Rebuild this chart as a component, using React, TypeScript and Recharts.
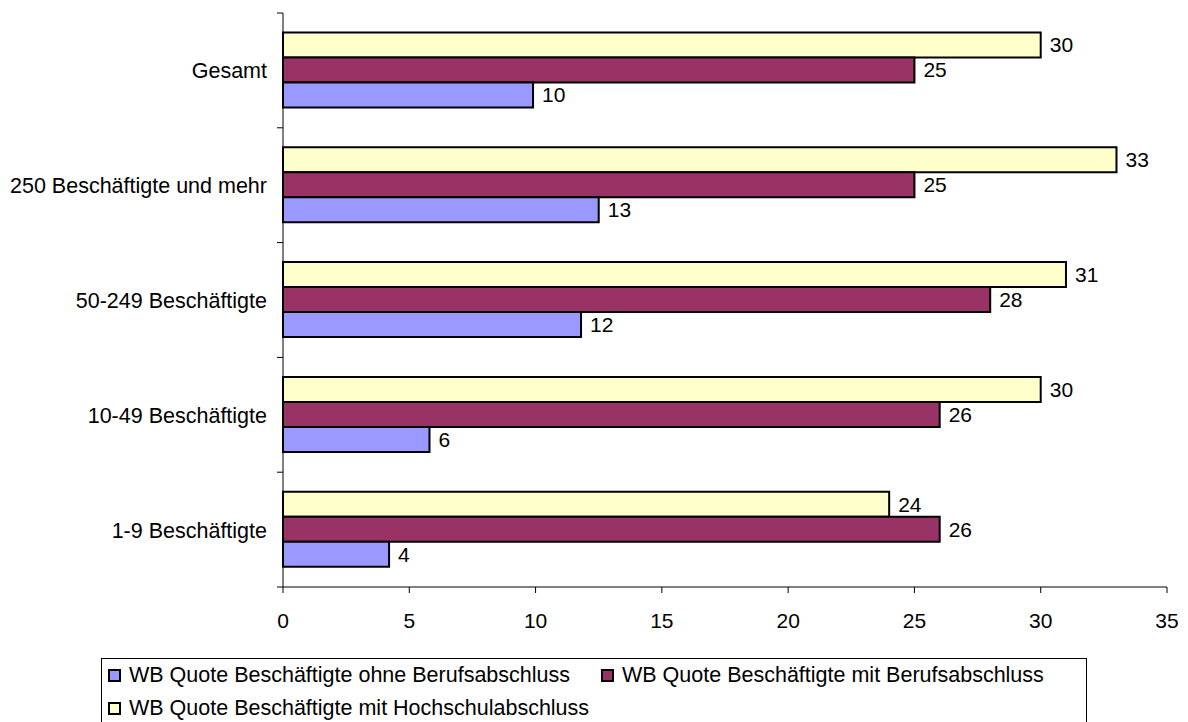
import { Bar, BarChart, LabelList, XAxis, YAxis } from "recharts";

const FONT = "'Liberation Sans', Arial, sans-serif";

const CATEGORIES = [
  "Gesamt",
  "250 Beschäftigte und mehr",
  "50-249 Beschäftigte",
  "10-49 Beschäftigte",
  "1-9 Beschäftigte",
];
const OHNE = [9.9, 12.5, 11.8, 5.8, 4.2];
const MIT = [25.0, 25.0, 28.0, 26.0, 26.0];
const HOCH = [30.0, 33.0, 31.0, 30.0, 24.0];
const X_TICKS = [0, 5, 10, 15, 20, 25, 30, 35];

const SERIES = [
  { key: "ohne", name: "WB Quote Beschäftigte ohne Berufsabschluss", color: "#9999ff" },
  { key: "mit", name: "WB Quote Beschäftigte mit Berufsabschluss", color: "#993366" },
  { key: "hoch", name: "WB Quote Beschäftigte mit Hochschulabschluss", color: "#ffffcc" },
];

const data = CATEGORIES.map((name, i) => ({
  name,
  ohne: OHNE[i],
  mit: MIT[i],
  hoch: HOCH[i],
}));

const Y_TICK_SIZE = 6;
const Y_TICK_MARGIN = 10;

// Excel-style: tick marks between categories, label centred in band
function CategoryTick(props: any) {
  const { x, y, payload, index, visibleTicksCount } = props;
  const half = payload?.offset || 57.5;
  const lx = x + Y_TICK_MARGIN;
  return (
    <g>
      <line x1={lx} x2={lx + Y_TICK_SIZE} y1={y - half} y2={y - half} stroke="#000" />
      {index === visibleTicksCount - 1 && (
        <line x1={lx} x2={lx + Y_TICK_SIZE} y1={y + half} y2={y + half} stroke="#000" />
      )}
      <text x={x} y={y} dy={1} textAnchor="end" dominantBaseline="central" fontSize={21.5} fill="#000">
        {payload.value}
      </text>
    </g>
  );
}

const round = (v: any) => Math.round(Number(v));

export default function App() {
  // bars listed top-to-bottom inside each group
  const drawOrder = [SERIES[2], SERIES[1], SERIES[0]];
  return (
    <div
      style={{
        position: "absolute",
        left: 0,
        top: 0,
        width: 1188,
        height: 722,
        overflow: "hidden",
        background: "#fff",
        fontFamily: FONT,
      }}
    >
      <BarChart
        width={1188}
        height={640}
        data={data}
        layout="vertical"
        margin={{ top: 13, right: 21, bottom: 3, left: 0 }}
        barCategoryGap="17%"
        barGap={0}
      >
        <XAxis
          type="number"
          domain={[0, 35]}
          ticks={X_TICKS}
          height={50}
          tickSize={6}
          tickMargin={20}
          axisLine={{ stroke: "#000" }}
          tickLine={{ stroke: "#000" }}
          tick={{ fontSize: 21, fill: "#000" }}
        />
        <YAxis
          type="category"
          dataKey="name"
          width={283}
          tickSize={Y_TICK_SIZE}
          tickMargin={Y_TICK_MARGIN}
          tickLine={false}
          axisLine={{ stroke: "#000" }}
          tick={<CategoryTick />}
          interval={0}
        />
        {drawOrder.map((s) => (
          <Bar
            key={s.key}
            dataKey={s.key}
            name={s.name}
            fill={s.color}
            stroke="#000"
            strokeWidth={2}
            isAnimationActive={false}
          >
            <LabelList dataKey={s.key} position="right" offset={9} formatter={round} fill="#000" fontSize={21} />
          </Bar>
        ))}
      </BarChart>
      <div
        style={{
          position: "absolute",
          left: 101,
          top: 658,
          width: 986,
          height: 90,
          border: "1px solid #000",
          boxSizing: "border-box",
          paddingLeft: 6,
          paddingTop: 0,
          fontSize: 21.5,
          lineHeight: "33px",
          color: "#000",
        }}
      >
        {SERIES.map((s, i) => (
          <span
            key={s.key}
            style={{
              display: "inline-flex",
              alignItems: "center",
              marginRight: i === 0 ? 31 : 0,
              whiteSpace: "nowrap",
            }}
          >
            <span
              style={{
                display: "inline-block",
                width: 13,
                height: 13,
                background: s.color,
                border: "2px solid #000",
                boxSizing: "border-box",
                marginRight: 8,
              }}
            />
            {s.name}
            {i === 1 && <br />}
          </span>
        ))}
      </div>
    </div>
  );
}
